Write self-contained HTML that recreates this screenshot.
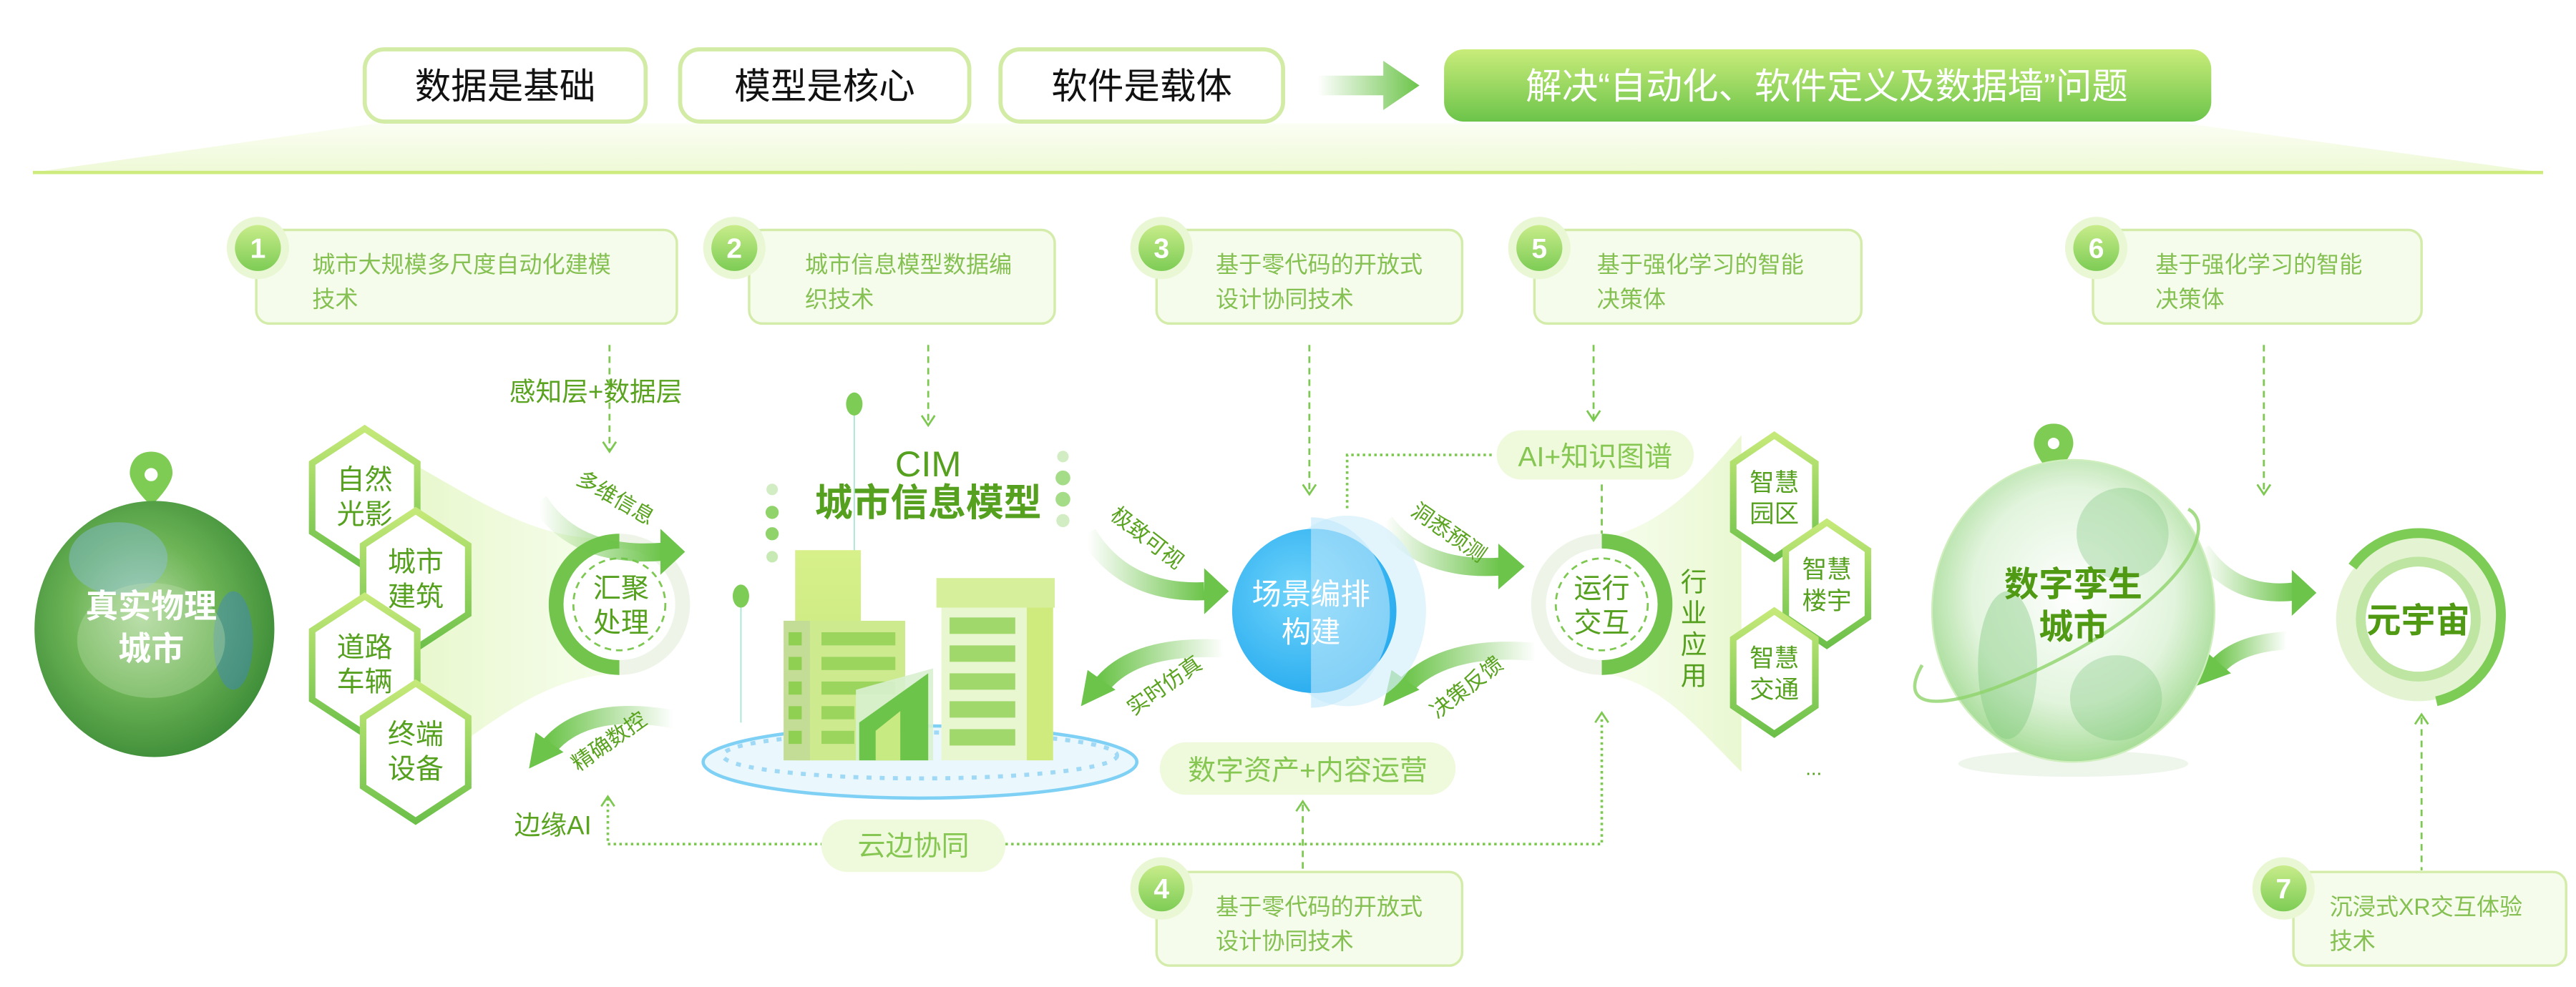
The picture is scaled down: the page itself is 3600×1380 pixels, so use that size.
<!DOCTYPE html>
<html><head><meta charset="utf-8"><style>
html,body{margin:0;padding:0;background:#fff;}
svg{display:block;}
text{font-family:"Liberation Sans","Noto Sans CJK SC",sans-serif;}
</style></head><body>
<svg width="3600" height="1380" viewBox="0 0 1568 601" xmlns="http://www.w3.org/2000/svg">
<defs>
<linearGradient id="band" x1="0" y1="0" x2="0" y2="1"><stop offset="0" stop-color="#fbfef4"/><stop offset="1" stop-color="#eef9d6"/></linearGradient>
<linearGradient id="gbtn" x1="0" y1="0" x2="0" y2="1"><stop offset="0" stop-color="#c9ec7a"/><stop offset="1" stop-color="#6cc44a"/></linearGradient>
<linearGradient id="arr" x1="0" y1="0" x2="1" y2="0"><stop offset="0" stop-color="#6cc44a" stop-opacity="0"/><stop offset="1" stop-color="#6cc44a"/></linearGradient>
<linearGradient id="arrL" x1="1" y1="0" x2="0" y2="0"><stop offset="0" stop-color="#6cc44a" stop-opacity="0"/><stop offset="1" stop-color="#6cc44a"/></linearGradient>
<linearGradient id="hexs" x1="0" y1="0" x2="0" y2="1"><stop offset="0" stop-color="#c5e979"/><stop offset="1" stop-color="#6cc04a"/></linearGradient>
<linearGradient id="badge" x1="0" y1="0" x2="0" y2="1"><stop offset="0" stop-color="#c8ec8a"/><stop offset="1" stop-color="#7dcc55"/></linearGradient>
<linearGradient id="funnel" x1="0" y1="0" x2="1" y2="0"><stop offset="0" stop-color="#e9f8cf"/><stop offset="1" stop-color="#f7fdee"/></linearGradient>
<linearGradient id="funnel2" x1="0" y1="0" x2="1" y2="0"><stop offset="0" stop-color="#f7fdee"/><stop offset="1" stop-color="#eaf8d2"/></linearGradient>
<radialGradient id="earth" cx="0.45" cy="0.45" r="0.6"><stop offset="0" stop-color="#b9dfa8"/><stop offset="0.5" stop-color="#6db456"/><stop offset="1" stop-color="#3a8a36"/></radialGradient>
<radialGradient id="blue" cx="0.4" cy="0.4" r="0.7"><stop offset="0" stop-color="#6fd4fb"/><stop offset="1" stop-color="#22a8ee"/></radialGradient>
<radialGradient id="dg" cx="0.5" cy="0.45" r="0.55"><stop offset="0" stop-color="#ffffff"/><stop offset="0.65" stop-color="#e2f4dd"/><stop offset="1" stop-color="#a6dc97"/></radialGradient>
<linearGradient id="bld" x1="0" y1="0" x2="0" y2="1"><stop offset="0" stop-color="#d7f08a"/><stop offset="1" stop-color="#c2e57a"/></linearGradient>
</defs>

<polygon points="20,105 230,75 1330,75 1548,105" fill="url(#band)"/>
<line x1="20" y1="105" x2="1548" y2="105" stroke="#cdec7d" stroke-width="2"/>

<g font-size="22" fill="#111" text-anchor="middle">
<rect x="222" y="30" width="171" height="44" rx="12" fill="#fff" stroke="#d2eba5" stroke-width="2.5"/>
<text x="307.5" y="60">数据是基础</text>
<rect x="414" y="30" width="176" height="44" rx="12" fill="#fff" stroke="#d2eba5" stroke-width="2.5"/>
<text x="502" y="60">模型是核心</text>
<rect x="609" y="30" width="172" height="44" rx="12" fill="#fff" stroke="#d2eba5" stroke-width="2.5"/>
<text x="695" y="60">软件是载体</text>
</g>
<polygon points="802,46 842,46 842,37 864,52 842,67 842,58 802,58" fill="url(#arr)"/>
<rect x="879" y="30" width="467" height="44" rx="12" fill="url(#gbtn)"/>
<text x="1112" y="60" font-size="22" fill="#fff" text-anchor="middle">解决“自动化、软件定义及数据墙”问题</text>

<g font-size="14" fill="#85c052">
<rect x="156" y="140" width="256" height="57" rx="8" fill="#f6fcec" stroke="#d4ecaa" stroke-width="1.5"/>
<text x="190" y="166">城市大规模多尺度自动化建模</text><text x="190" y="187">技术</text>
<rect x="456" y="140" width="186" height="57" rx="8" fill="#f6fcec" stroke="#d4ecaa" stroke-width="1.5"/>
<text x="490" y="166">城市信息模型数据编</text><text x="490" y="187">织技术</text>
<rect x="704" y="140" width="186" height="57" rx="8" fill="#f6fcec" stroke="#d4ecaa" stroke-width="1.5"/>
<text x="740" y="166">基于零代码的开放式</text><text x="740" y="187">设计协同技术</text>
<rect x="934" y="140" width="199" height="57" rx="8" fill="#f6fcec" stroke="#d4ecaa" stroke-width="1.5"/>
<text x="972" y="166">基于强化学习的智能</text><text x="972" y="187">决策体</text>
<rect x="1274" y="140" width="200" height="57" rx="8" fill="#f6fcec" stroke="#d4ecaa" stroke-width="1.5"/>
<text x="1312" y="166">基于强化学习的智能</text><text x="1312" y="187">决策体</text>
<rect x="704" y="531" width="186" height="57" rx="8" fill="#f6fcec" stroke="#d4ecaa" stroke-width="1.5"/>
<text x="740" y="557">基于零代码的开放式</text><text x="740" y="578">设计协同技术</text>
<rect x="1396" y="531" width="166" height="57" rx="8" fill="#f6fcec" stroke="#d4ecaa" stroke-width="1.5"/>
<text x="1418" y="557">沉浸式XR交互体验</text><text x="1418" y="578">技术</text>
</g>
<g font-size="17" font-weight="bold" fill="#fff" text-anchor="middle">
<circle cx="157" cy="151" r="19" fill="#eaf7d4"/><circle cx="157" cy="151" r="14" fill="url(#badge)"/><text x="157" y="157">1</text>
<circle cx="447" cy="151" r="19" fill="#eaf7d4"/><circle cx="447" cy="151" r="14" fill="url(#badge)"/><text x="447" y="157">2</text>
<circle cx="707" cy="151" r="19" fill="#eaf7d4"/><circle cx="707" cy="151" r="14" fill="url(#badge)"/><text x="707" y="157">3</text>
<circle cx="937" cy="151" r="19" fill="#eaf7d4"/><circle cx="937" cy="151" r="14" fill="url(#badge)"/><text x="937" y="157">5</text>
<circle cx="1276" cy="151" r="19" fill="#eaf7d4"/><circle cx="1276" cy="151" r="14" fill="url(#badge)"/><text x="1276" y="157">6</text>
<circle cx="707" cy="541" r="19" fill="#eaf7d4"/><circle cx="707" cy="541" r="14" fill="url(#badge)"/><text x="707" y="547">4</text>
<circle cx="1390" cy="541" r="19" fill="#eaf7d4"/><circle cx="1390" cy="541" r="14" fill="url(#badge)"/><text x="1390" y="547">7</text>
</g>

<g stroke="#7cc850" stroke-width="1.2" fill="none" stroke-dasharray="4,3">
<line x1="371" y1="210" x2="371" y2="274"/>
<line x1="565" y1="210" x2="565" y2="258"/>
<line x1="797" y1="210" x2="797" y2="300"/>
<line x1="970" y1="210" x2="970" y2="255"/>
<line x1="1378" y1="210" x2="1378" y2="300"/>
<line x1="975" y1="295" x2="975" y2="325"/>
</g>
<g stroke="#7cc850" stroke-width="1.2" fill="none">
<polyline points="367,269 371,275 375,269"/>
<polyline points="561,253 565,259 569,253"/>
<polyline points="793,295 797,301 801,295"/>
<polyline points="966,250 970,256 974,250"/>
<polyline points="1374,295 1378,301 1382,295"/>
<polyline points="366,491 370,485 374,491"/>
<polyline points="971,440 975,434 979,440"/>
<polyline points="789,494 793,488 797,494"/>
<polyline points="1470,441 1474,435 1478,441"/>
</g>
<g stroke="#7cc850" stroke-width="1.6" fill="none" stroke-dasharray="1.5,2">
<polyline points="908,277 820,277 820,310"/>
<polyline points="370,486 370,514 500,514"/>
<polyline points="612,514 975,514 975,436"/>
<line x1="793" y1="490" x2="793" y2="530" stroke-dasharray="4,3" stroke-width="1.2"/>
<line x1="1474" y1="437" x2="1474" y2="530" stroke-dasharray="4,3" stroke-width="1.2"/>
</g>
<text x="310" y="244" font-size="16" fill="#5aa320">感知层+数据层</text>
<rect x="500" y="499" width="112" height="32" rx="16" fill="#eefadb"/>
<text x="556" y="521" font-size="17" fill="#86c652" text-anchor="middle">云边协同</text>
<text x="313" y="508" font-size="16" fill="#5aa320">边缘AI</text>

<path d="M92,275 c-9,0 -13,7 -13,13 c0,8 13,20 13,20 c0,0 13,-12 13,-20 c0,-6 -4,-13 -13,-13z" fill="#7fcc55"/>
<circle cx="92" cy="289" r="4" fill="#fff"/>
<ellipse cx="94" cy="383" rx="73" ry="78" fill="url(#earth)"/>
<ellipse cx="72" cy="340" rx="30" ry="22" fill="#8cbfe0" opacity="0.45"/>
<ellipse cx="142" cy="390" rx="12" ry="30" fill="#3d86c8" opacity="0.45"/>
<ellipse cx="92" cy="390" rx="45" ry="35" fill="#bfe0b0" opacity="0.35"/>
<g font-size="20" font-weight="bold" fill="#fff" text-anchor="middle"><text x="92" y="376">真实物理</text><text x="92" y="402">城市</text></g>

<path d="M256,285 C300,310 330,330 377,328 L377,410 C330,412 300,440 256,470 Z" fill="url(#funnel)"/>
<g fill="#fff" stroke="url(#hexs)" stroke-width="4">
<polygon points="222,261 254,282 254,324 222,345 190,324 190,282"/>
<polygon points="253,311 285,332 285,374 253,395 221,374 221,332"/>
<polygon points="222,363 254,384 254,426 222,447 190,426 190,384"/>
<polygon points="253,416 285,437 285,479 253,500 221,479 221,437"/>
</g>
<g font-size="17" fill="#55a01e" text-anchor="middle">
<text x="222" y="298">自然</text><text x="222" y="319">光影</text>
<text x="253" y="348">城市</text><text x="253" y="369">建筑</text>
<text x="222" y="400">道路</text><text x="222" y="421">车辆</text>
<text x="253" y="453">终端</text><text x="253" y="474">设备</text>
</g>

<circle cx="377" cy="368" r="43" fill="#eef5e8"/>
<path d="M377,325 A43,43 0 0 0 377,411 Z" fill="#72c44c"/>
<circle cx="377" cy="368" r="34" fill="#fff"/>
<circle cx="377" cy="368" r="28" fill="none" stroke="#7cc850" stroke-width="1.2" stroke-dasharray="4,3"/>
<g font-size="17" fill="#55a01e" text-anchor="middle"><text x="378" y="364">汇聚</text><text x="378" y="385">处理</text></g>

<g>
<path d="M328,305 Q350,340 403,336" stroke="url(#arr)" stroke-width="11" fill="none"/>
<polygon points="402,322 417,336 402,350" fill="#6cc44a"/>
<text x="350" y="294" font-size="13" fill="#5aa320" transform="rotate(30 350 294)">多维信息</text>

<path d="M410,438 Q355,428 333,456" stroke="url(#arrL)" stroke-width="11" fill="none"/>
<polygon points="322,468 326,446 343,458" fill="#6cc44a"/>
<text x="352" y="470" font-size="13" fill="#5aa320" transform="rotate(-35 352 470)">精确数控</text>

<path d="M662,325 Q685,362 733,360" stroke="url(#arr)" stroke-width="11" fill="none"/>
<polygon points="733,346 748,360 733,374" fill="#6cc44a"/>
<text x="675" y="315" font-size="13" fill="#5aa320" transform="rotate(38 675 315)">极致可视</text>

<path d="M745,395 Q690,392 670,418" stroke="url(#arrL)" stroke-width="11" fill="none"/>
<polygon points="658,430 662,408 679,420" fill="#6cc44a"/>
<text x="690" y="436" font-size="13" fill="#5aa320" transform="rotate(-35 690 436)">实时仿真</text>

<path d="M843,318 Q866,348 913,345" stroke="url(#arr)" stroke-width="11" fill="none"/>
<polygon points="912,331 928,345 912,359" fill="#6cc44a"/>
<text x="858" y="313" font-size="13" fill="#5aa320" transform="rotate(35 858 313)">洞悉预测</text>

<path d="M935,397 Q880,392 855,418" stroke="url(#arrL)" stroke-width="11" fill="none"/>
<polygon points="842,430 847,408 864,420" fill="#6cc44a"/>
<text x="875" y="438" font-size="13" fill="#5aa320" transform="rotate(-38 875 438)">决策反馈</text>

<path d="M1340,335 Q1360,365 1398,360" stroke="url(#arr)" stroke-width="11" fill="none"/>
<polygon points="1395,347 1410,361 1395,375" fill="#6cc44a"/>
<path d="M1392,390 Q1360,392 1348,408" stroke="url(#arrL)" stroke-width="11" fill="none"/>
<polygon points="1336,418 1342,396 1358,410" fill="#6cc44a"/>
</g>

<g fill="#55a01e" text-anchor="middle"><text x="565" y="290" font-size="22">CIM</text><text x="565" y="314" font-size="23" font-weight="bold">城市信息模型</text></g>
<line x1="520" y1="253" x2="520" y2="340" stroke="#a8e5d5" stroke-width="0.8"/>
<line x1="451" y1="370" x2="451" y2="440" stroke="#a8e5d5" stroke-width="0.8"/>
<ellipse cx="520" cy="246" rx="5" ry="7" fill="#7ccc55"/>
<ellipse cx="451" cy="363" rx="5" ry="7" fill="#7ccc55"/>
<g fill="#8fd36a"><circle cx="470" cy="298" r="3.5" opacity="0.4"/><circle cx="470" cy="312" r="4"/><circle cx="470" cy="325" r="4"/><circle cx="470" cy="339" r="3.5" opacity="0.5"/>
<circle cx="647" cy="278" r="3.5" opacity="0.4"/><circle cx="647" cy="291" r="4.5" opacity="0.8"/><circle cx="647" cy="304" r="4.5" opacity="0.8"/><circle cx="647" cy="317" r="4" opacity="0.4"/></g>
<ellipse cx="560" cy="464" rx="132" ry="22" fill="#eaf7fd" stroke="#7fd0f5" stroke-width="2"/>
<ellipse cx="560" cy="460" rx="120" ry="14" fill="none" stroke="#9fd9f5" stroke-width="2.5" stroke-dasharray="3,5"/>
<rect x="484" y="335" width="40" height="128" fill="url(#bld)"/>
<rect x="477" y="378" width="74" height="85" fill="#cdeb8e"/>
<rect x="477" y="378" width="16" height="85" fill="#c3dd96"/>
<rect x="573" y="353" width="68" height="110" fill="#e9f7d0"/>
<rect x="625" y="353" width="16" height="110" fill="#cfeb7d"/>
<rect x="570" y="352" width="72" height="18" fill="#d6ef9a"/>
<g fill="#8fcf52">
<rect x="480" y="385" width="8" height="8"/><rect x="480" y="400" width="8" height="8"/><rect x="480" y="415" width="8" height="8"/><rect x="480" y="430" width="8" height="8"/><rect x="480" y="445" width="8" height="8"/>
<rect x="500" y="385" width="45" height="8" opacity="0.8"/><rect x="500" y="400" width="45" height="8" opacity="0.8"/><rect x="500" y="415" width="45" height="8" opacity="0.8"/><rect x="500" y="430" width="20" height="8" opacity="0.8"/><rect x="500" y="445" width="20" height="8" opacity="0.8"/>
<rect x="578" y="376" width="40" height="10" opacity="0.8"/><rect x="578" y="393" width="40" height="10" opacity="0.8"/><rect x="578" y="410" width="40" height="10" opacity="0.8"/><rect x="578" y="427" width="40" height="10" opacity="0.8"/><rect x="578" y="444" width="40" height="10" opacity="0.8"/>
</g>
<polygon points="521,463 521,420 568,407 568,463" fill="#d9f1cf" opacity="0.9"/>
<polygon points="523,463 523,440 565,410 565,463" fill="#6cc44a"/>
<polygon points="533,463 533,445 548,433 548,463" fill="#c8ea82"/>

<ellipse cx="820" cy="372" rx="48" ry="58" fill="#d6f0fb" opacity="0.7"/>
<circle cx="800" cy="372" r="50" fill="url(#blue)"/>
<path d="M798,315 A48,58 0 0 1 798,431 Z" fill="#bfe8fb" opacity="0.6"/>
<g font-size="18" fill="#fff" text-anchor="middle"><text x="798" y="368">场景编排</text><text x="798" y="391">构建</text></g>

<rect x="706" y="452" width="180" height="32" rx="16" fill="#eefadb"/>
<text x="796" y="475" font-size="17" fill="#86c652" text-anchor="middle">数字资产+内容运营</text>
<rect x="911" y="262" width="120" height="30" rx="15" fill="#eefadb"/>
<text x="971" y="284" font-size="17" fill="#86c652" text-anchor="middle">AI+知识图谱</text>

<path d="M975,328 C1010,320 1030,300 1060,265 L1060,470 C1030,440 1010,415 975,410 Z" fill="url(#funnel2)"/>
<circle cx="975" cy="368" r="43" fill="#eef5e8"/>
<path d="M975,325 A43,43 0 0 1 975,411 Z" fill="#72c44c"/>
<circle cx="975" cy="368" r="34" fill="#fff"/>
<circle cx="975" cy="368" r="28" fill="none" stroke="#7cc850" stroke-width="1.2" stroke-dasharray="4,3"/>
<g font-size="17" fill="#55a01e" text-anchor="middle"><text x="975" y="364">运行</text><text x="975" y="385">交互</text></g>
<g font-size="16" fill="#55a01e" text-anchor="middle"><text x="1031" y="360">行</text><text x="1031" y="379">业</text><text x="1031" y="398">应</text><text x="1031" y="417">用</text></g>

<g fill="#fff" stroke="url(#hexs)" stroke-width="4">
<polygon points="1080,265 1105,282 1105,323 1080,340 1055,323 1055,282"/>
<polygon points="1112,318 1137,335 1137,376 1112,393 1087,376 1087,335"/>
<polygon points="1080,372 1105,389 1105,430 1080,447 1055,430 1055,389"/>
</g>
<g font-size="15" fill="#55a01e" text-anchor="middle">
<text x="1080" y="299">智慧</text><text x="1080" y="318">园区</text>
<text x="1112" y="352">智慧</text><text x="1112" y="371">楼宇</text>
<text x="1080" y="406">智慧</text><text x="1080" y="425">交通</text>
<text x="1104" y="472" font-size="12">...</text>
</g>

<path d="M1250,258 c-9,0 -12,7 -12,12 c0,8 12,20 12,20 c0,0 12,-12 12,-20 c0,-5 -3,-12 -12,-12z" fill="#7fcc55"/>
<circle cx="1250" cy="270" r="3.5" fill="#fff"/>
<ellipse cx="1262" cy="465" rx="70" ry="8" fill="#eef6ec"/>
<ellipse cx="1262" cy="372" rx="86" ry="92" fill="url(#dg)"/>
<ellipse cx="1222" cy="405" rx="18" ry="45" fill="#7cc77a" opacity="0.4"/>
<ellipse cx="1292" cy="325" rx="28" ry="28" fill="#7cc77a" opacity="0.35"/>
<ellipse cx="1288" cy="425" rx="28" ry="26" fill="#7cc77a" opacity="0.35"/>
<ellipse cx="1262" cy="372" rx="86" ry="92" fill="none" stroke="#cfeebd" stroke-width="1"/>
<path d="M1170,405 C1150,440 1200,430 1260,398 C1330,360 1350,320 1332,310" stroke="#8fd36a" stroke-width="2" fill="none" opacity="0.8"/>
<g font-size="21" font-weight="bold" fill="#4f9a12" text-anchor="middle"><text x="1262" y="363">数字孪生</text><text x="1262" y="389">城市</text></g>

<circle cx="1472" cy="377" r="50" fill="#e4f4d3"/>
<path d="M1432,345 A50,50 0 0 1 1522,380 A50,50 0 0 1 1483,427" stroke="#7dcc55" stroke-width="6" fill="none"/>
<circle cx="1472" cy="377" r="38" fill="#bfe5a2"/>
<circle cx="1472" cy="377" r="32" fill="#fff"/>
<text x="1472" y="385" font-size="21" font-weight="bold" fill="#4f9a12" text-anchor="middle">元宇宙</text>
</svg>
</body></html>
